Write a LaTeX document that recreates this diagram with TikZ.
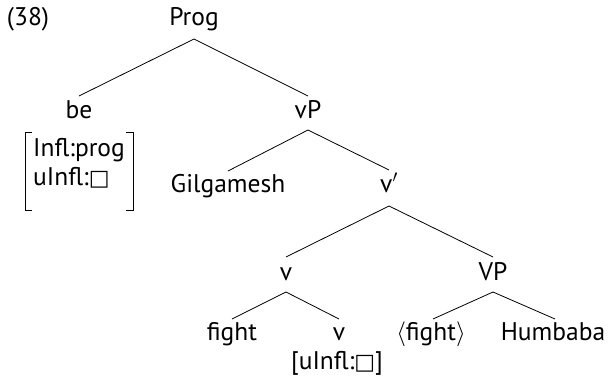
\documentclass[tikz,border=0pt]{standalone}
\usepackage{fontspec}
\setmainfont{PT Sans}
\newfontfamily\symfont{DejaVu Sans}
\usetikzlibrary{calc}
\newcommand{\emptybox}{{\symfont\fontsize{22}{25}\selectfont\char"25A1}}
\begin{document}
\begin{tikzpicture}[x=1pt,y=-1pt,
  font=\fontsize{25.5}{30}\selectfont,
  lbl/.style={anchor=base, inner sep=0pt},
  edge/.style={line width=0.8pt},
  brk/.style={line width=0.9pt}]
\useasboundingbox (0,0) rectangle (612,377);
% labels
\node[lbl] (ex) at (28,26) {(38)};
\node[lbl] (prog) at (194,26) {Prog};
\node[lbl] (be) at (79,118) {be};
\node[lbl, anchor=base west] (r1) at (33,156) {Infl:prog};
\node[lbl, anchor=base west] (r2) at (33,185) {uInfl:\emptybox};
\node[lbl] (vP) at (308,118) {vP};
\node[lbl] (gil) at (228,192) {Gilgamesh};
\node[lbl] (vbar) at (389,192) {v$'$};
\node[lbl] (v) at (286,280) {v};
\node[lbl] (VP) at (493,280) {VP};
\node[lbl] (fight) at (232,340) {fight};
\node[lbl] (v2) at (339,340) {v};
\node[lbl] (feat) at (337,369) {[uInfl:\emptybox]};
\node[lbl] (tfight) at (431,340) {$\langle$fight$\rangle$};
\node[lbl] (hum) at (553,340) {Humbaba};
% AVM brackets
\draw[brk] (32,132) -- (25,132) -- (25,210) -- (32,210);
\draw[brk] (126,132) -- (133,132) -- (133,210) -- (126,210);
% edges
\draw[edge] ($(prog.base)+(0,13)$) -- ($(be.base)+(0,-22)$);
\draw[edge] ($(prog.base)+(0,13)$) -- ($(vP.base)+(0,-22)$);
\draw[edge] ($(vP.base)+(0,12)$) -- ($(gil.base)+(0,-21)$);
\draw[edge] ($(vP.base)+(0,12)$) -- ($(vbar.base)+(0,-22)$);
\draw[edge] ($(vbar.base)+(0,14)$) -- ($(v.base)+(0,-23)$);
\draw[edge] ($(vbar.base)+(0,14)$) -- ($(VP.base)+(0,-23)$);
\draw[edge] ($(v.base)+(0,12)$) -- ($(fight.base)+(0,-21)$);
\draw[edge] ($(v.base)+(0,12)$) -- ($(v2.base)+(0,-21)$);
\draw[edge] ($(VP.base)+(0,12)$) -- ($(tfight.base)+(2,-21)$);
\draw[edge] ($(VP.base)+(0,12)$) -- ($(hum.base)+(2,-21)$);
\end{tikzpicture}
\end{document}
